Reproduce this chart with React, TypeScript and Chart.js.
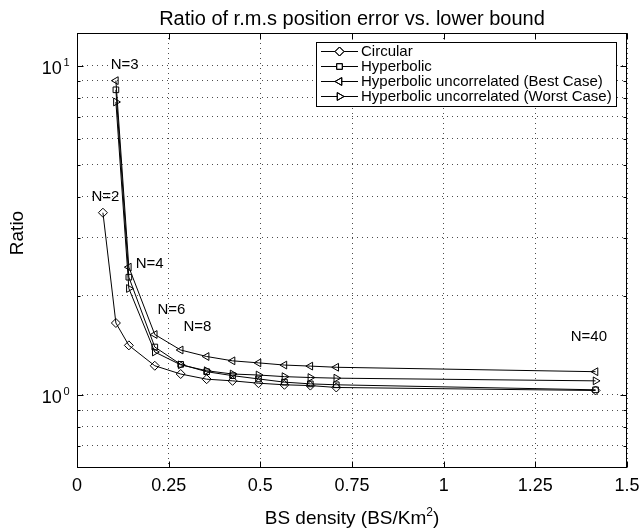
import React, { useEffect, useRef } from "react";
import { Chart, registerables } from "chart.js";
import { drawPoint } from "chart.js/helpers";

Chart.register(...registerables);

const TITLE = "Ratio of r.m.s position error vs. lower bound";
const X_LABEL_MAIN = "BS density (BS/Km";
const X_LABEL_SUP = "2";
const X_LABEL_END = ")";
const Y_LABEL = "Ratio";

// BS density (BS/Km^2) for N = 2,3,4,6,8,...,20,40
const densityCircular = [0.0707, 0.1061, 0.1414, 0.2121, 0.2828, 0.3536, 0.4243, 0.495, 0.5657, 0.6364, 0.7071, 1.4142];
const densityHyper = [0.1061, 0.1414, 0.2121, 0.2828, 0.3536, 0.4243, 0.495, 0.5657, 0.6364, 0.7071, 1.4142];

const circular = [3.58, 1.655, 1.415, 1.227, 1.158, 1.117, 1.104, 1.086, 1.074, 1.068, 1.054, 1.032];
const hyperbolic = [8.46, 2.28, 1.399, 1.239, 1.177, 1.145, 1.119, 1.094, 1.081, 1.074, 1.037];
const bestCase = [9.02, 2.446, 1.527, 1.37, 1.309, 1.27, 1.252, 1.233, 1.224, 1.214, 1.177];
const worstCase = [7.77, 2.107, 1.351, 1.235, 1.185, 1.158, 1.15, 1.137, 1.13, 1.125, 1.104];

const seriesLabels = [
  "Circular",
  "Hyperbolic",
  "Hyperbolic uncorrelated (Best Case)",
  "Hyperbolic uncorrelated (Worst Case)",
];

const xTicks = [0, 0.25, 0.5, 0.75, 1, 1.25, 1.5];
const xTickLabels = ["0", "0.25", "0.5", "0.75", "1", "1.25", "1.5"];
const yTicks = [0.7, 0.8, 0.9, 1, 2, 3, 4, 5, 6, 7, 8, 9, 10];
const yMajorTicks = [1, 10];
const yMajorExponents = ["0", "1"];

const annotationText = ["N=2", "N=3", "N=4", "N=6", "N=8", "N=40"];
const annotationX = [0.0775, 0.13, 0.198, 0.2576, 0.3285, 1.396];
const annotationY = [4.0, 10.07, 2.505, 1.815, 1.606, 1.506];

const FONT = "'Liberation Sans', Arial, Helvetica, sans-serif";

const markerStyles = [
  { pointStyle: "rectRot", radius: 4.5, rotation: 0 },
  { pointStyle: "rect", radius: 4, rotation: 0 },
  { pointStyle: "triangle", radius: 4.5, rotation: 270 },
  { pointStyle: "triangle", radius: 4.5, rotation: 90 },
];

const decorations = {
  id: "decorations",
  afterDraw(chart: any) {
    const { ctx, chartArea: a, scales } = chart;
    const xs = scales.x;
    const ys = scales.y;
    const L = Math.round(a.left) + 0.5;
    const R = Math.round(a.right) - 0.5;
    const T = Math.round(a.top) + 0.5;
    const B = Math.round(a.bottom) - 0.5;
    ctx.save();
    ctx.strokeStyle = "#000";
    ctx.fillStyle = "#000";
    ctx.lineWidth = 1;
    ctx.setLineDash([]);
    const line = (x1: number, y1: number, x2: number, y2: number) => {
      ctx.beginPath();
      ctx.moveTo(x1, y1);
      ctx.lineTo(x2, y2);
      ctx.stroke();
    };
    // frame
    ctx.strokeRect(L, T, R - L, B - T);
    // inner ticks
    for (const v of xTicks) {
      const px = Math.round(xs.getPixelForValue(v)) + 0.5;
      line(px, B, px, B - 6);
      line(px, T, px, T + 6);
    }
    for (const v of yTicks) {
      const py = Math.round(ys.getPixelForValue(v)) + 0.5;
      const len = yMajorTicks.includes(v) ? 6 : 3;
      line(L, py, L + len, py);
      line(R, py, R - len, py);
    }
    // x tick labels
    ctx.font = `18px ${FONT}`;
    ctx.textAlign = "center";
    ctx.textBaseline = "alphabetic";
    xTicks.forEach((v, i) => {
      ctx.fillText(xTickLabels[i], xs.getPixelForValue(v), B + 23);
    });
    // y tick labels (10^n)
    yMajorTicks.forEach((v, i) => {
      const py = ys.getPixelForValue(v);
      ctx.font = `11px ${FONT}`;
      const ws = ctx.measureText(yMajorExponents[i]).width;
      ctx.textAlign = "left";
      ctx.fillText(yMajorExponents[i], L - 8 - ws, py + 0.5);
      ctx.font = `18px ${FONT}`;
      ctx.textAlign = "right";
      ctx.fillText("10", L - 8 - ws - 1.5, py + 8);
    });
    // title
    const cx = (a.left + a.right) / 2;
    ctx.font = `20px ${FONT}`;
    ctx.textAlign = "center";
    ctx.fillText(TITLE, cx, 25);
    // x axis title with superscript
    ctx.font = `19px ${FONT}`;
    const w1 = ctx.measureText(X_LABEL_MAIN).width;
    const w3 = ctx.measureText(X_LABEL_END).width;
    ctx.font = `12px ${FONT}`;
    const w2 = ctx.measureText(X_LABEL_SUP).width;
    const total = w1 + w2 + w3;
    let sx = cx - total / 2;
    ctx.textAlign = "left";
    ctx.font = `19px ${FONT}`;
    ctx.fillText(X_LABEL_MAIN, sx, 524);
    sx += w1;
    ctx.font = `12px ${FONT}`;
    ctx.fillText(X_LABEL_SUP, sx, 516);
    sx += w2;
    ctx.font = `19px ${FONT}`;
    ctx.fillText(X_LABEL_END, sx, 524);
    // y axis title
    ctx.save();
    ctx.translate(18, 233);
    ctx.rotate(-Math.PI / 2);
    ctx.textAlign = "center";
    ctx.textBaseline = "middle";
    ctx.font = `19px ${FONT}`;
    ctx.fillText(Y_LABEL, 0, 0);
    ctx.restore();
    // annotations
    ctx.font = `15px ${FONT}`;
    ctx.textAlign = "center";
    ctx.textBaseline = "middle";
    annotationText.forEach((t, i) => {
      ctx.fillText(t, xs.getPixelForValue(annotationX[i]), ys.getPixelForValue(annotationY[i]));
    });
    // legend
    const lx = 316.5, ly = 42.5, lw = 300, lh = 64;
    ctx.fillStyle = "#fff";
    ctx.fillRect(lx, ly, lw, lh);
    ctx.strokeStyle = "#000";
    ctx.strokeRect(lx, ly, lw, lh);
    ctx.font = `15px ${FONT}`;
    ctx.textAlign = "left";
    ctx.textBaseline = "middle";
    seriesLabels.forEach((label, i) => {
      const ry = Math.round(ly + 8.5 + i * 15) + 0.5;
      ctx.strokeStyle = "#000";
      ctx.lineWidth = 1;
      line(321, ry, 358, ry);
      const m = markerStyles[i];
      ctx.fillStyle = "#fff";
      drawPoint(ctx, { pointStyle: m.pointStyle, radius: m.radius, rotation: m.rotation, borderWidth: 1 } as any, 339.5, ry);
      ctx.stroke();
      ctx.fillStyle = "#000";
      ctx.fillText(label, 361, ry + 0.5);
    });
    ctx.restore();
  },
};

export default function App() {
  const canvasRef = useRef<HTMLCanvasElement | null>(null);

  useEffect(() => {
    if (!canvasRef.current) return;
    const allX = [densityCircular, densityHyper, densityHyper, densityHyper];
    const allY = [circular, hyperbolic, bestCase, worstCase];
    const datasets = allY.map((ys, i) => ({
      label: seriesLabels[i],
      data: ys.map((y, j) => ({ x: allX[i][j], y })),
      showLine: true,
      borderColor: "#000",
      borderWidth: 1,
      backgroundColor: "rgba(0,0,0,0)",
      pointStyle: markerStyles[i].pointStyle,
      pointRadius: markerStyles[i].radius,
      pointRotation: markerStyles[i].rotation,
      pointBorderColor: "#000",
      pointBorderWidth: 1,
      pointBackgroundColor: "rgba(0,0,0,0)",
      tension: 0,
    }));
    const chart = new Chart(canvasRef.current, {
      type: "scatter",
      data: { datasets },
      options: {
        responsive: false,
        animation: false,
        devicePixelRatio: 1,
        layout: { padding: { left: 77, top: 33, right: 16, bottom: 64 } },
        plugins: { legend: { display: false }, title: { display: false }, tooltip: { enabled: false } },
        scales: {
          x: {
            type: "linear",
            min: 0,
            max: 1.5,
            afterBuildTicks: (scale: any) => {
              scale.ticks = xTicks.map((v) => ({ value: v }));
            },
            afterFit: (scale: any) => {
              scale.height = 0;
            },
            ticks: { display: false },
            grid: { drawTicks: false, color: "rgba(0,0,0,0.7)", lineWidth: 1 },
            border: { display: false, dash: [1, 4] },
          },
          y: {
            type: "logarithmic",
            min: Math.pow(10, -0.2),
            max: Math.pow(10, 1.1),
            afterBuildTicks: (scale: any) => {
              scale.ticks = yTicks.map((v) => ({ value: v }));
            },
            afterFit: (scale: any) => {
              scale.width = 0;
            },
            ticks: { display: false },
            grid: { drawTicks: false, color: "rgba(0,0,0,0.7)", lineWidth: 1 },
            border: { display: false, dash: [1, 4] },
          },
        },
      },
      plugins: [decorations],
    });
    return () => chart.destroy();
  }, []);

  return (
    <div style={{ position: "absolute", left: 0, top: 0, width: 643, height: 532, background: "#fff" }}>
      <canvas ref={canvasRef} width={643} height={532} style={{ display: "block", width: 643, height: 532 }} />
    </div>
  );
}
